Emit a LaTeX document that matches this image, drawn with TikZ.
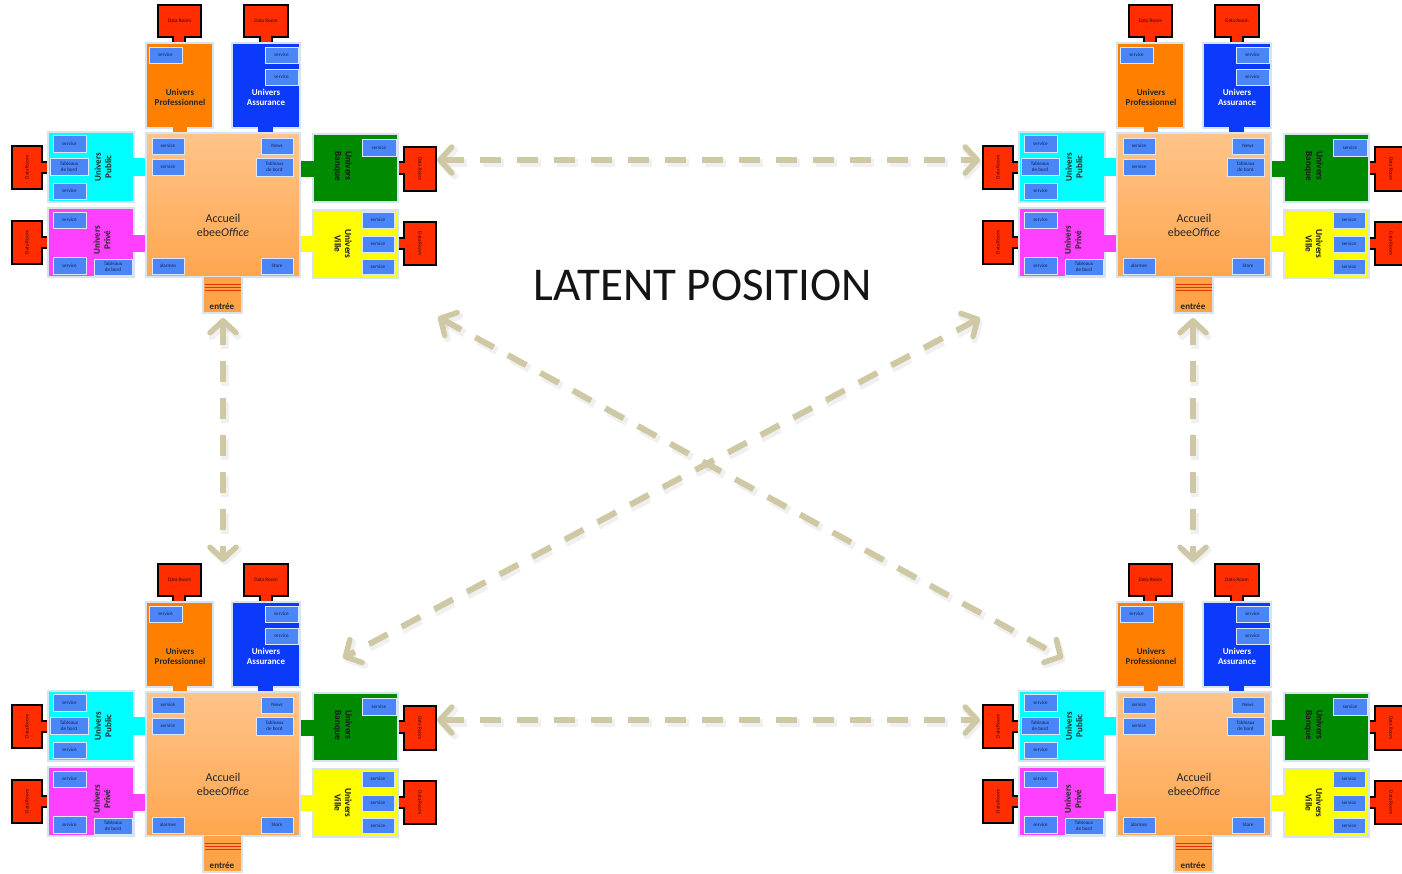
\documentclass[tikz,border=0pt]{standalone}
\usepackage{fontspec}
\setmainfont{Carlito}
\usetikzlibrary{arrows.meta}

\definecolor{drred}{RGB}{255,45,0}
\definecolor{uorange}{RGB}{255,128,0}
\definecolor{ublue}{RGB}{12,58,250}
\definecolor{ucyan}{RGB}{0,255,255}
\definecolor{umagenta}{RGB}{255,64,255}
\definecolor{ugreen}{RGB}{0,138,0}
\definecolor{uyellow}{RGB}{255,255,0}
\definecolor{svcblue}{RGB}{74,134,247}
\definecolor{svctext}{RGB}{20,35,80}
\definecolor{lightb}{RGB}{215,228,240}
\definecolor{acctop}{RGB}{255,196,138}
\definecolor{accbot}{RGB}{255,166,78}
\definecolor{entcol}{RGB}{255,163,70}
\definecolor{stripecol}{RGB}{230,50,10}
\definecolor{tan}{RGB}{207,200,165}

\tikzset{
  ubox/.style={draw=lightb, line width=1.2pt, inner sep=0pt, outer sep=0pt},
  svc/.style={fill=svcblue, draw=white!80!svcblue, line width=0.9pt, inner sep=0pt, outer sep=0pt,
    font=\fontsize{5.1}{6}\selectfont, text=svctext, align=center},
  ulabel/.style={font=\bfseries\fontsize{9}{10.5}\selectfont, align=center, text=black!85, inner sep=0pt},
  ulabelr/.style={font=\bfseries\fontsize{9.3}{10.5}\selectfont, align=center, text=black!90, inner sep=0pt},
  acclabel/.style={font=\fontsize{12}{14}\selectfont, align=center, text=black!85, inner sep=0pt},
  drline/.style={draw=black, line width=1.8pt, line join=miter},
  drtext/.style={font=\fontsize{5.2}{6}\selectfont, text=black!75!red, inner sep=0pt},
  stripe/.style={draw=stripecol, line width=0.8pt},
  latent/.style={draw=tan, line width=6pt, dash pattern=on 21pt off 16pt,
    {Straight Barb[length=12pt,width=26pt,line width=5.5pt,round]}-{Straight Barb[length=12pt,width=26pt,line width=5.5pt,round]}},
  latentshadow/.style={draw=black, opacity=0.06, line width=8pt, dash pattern=on 21pt off 16pt,
    {Straight Barb[length=12pt,width=26pt,line width=7pt,round]}-{Straight Barb[length=12pt,width=26pt,line width=7pt,round]},
    transform canvas={shift={(2pt,-3pt)}}},
}

% box from (x1,y1) to (x2,y2)
\newcommand\bx[7]{\node[#2, minimum width={(#5-#3)*1pt}, minimum height={(#6-#4)*1pt}] (#1) at ({(#3+#5)/2},{(#4+#6)/2}) {#7};}
% data room, stem down: name x1 y1 x2 y2 sx1 sx2 send
\newcommand\drD[8]{%
  \fill[drred] (#2,#3) rectangle (#4,#5) (#6,#5) rectangle (#7,#8);
  \draw[drline] (#6,#8) -- (#6,#5) -- (#2,#5) -- (#2,#3) -- (#4,#3) -- (#4,#5) -- (#7,#5) -- (#7,#8);
  \node[drtext] (#1) at ({(#2+#4)/2},{(#3+#5)/2}) {Data Room};}
% data room, stem right: name x1 y1 x2 y2 sy1 sy2 send
\newcommand\drR[8]{%
  \fill[drred] (#2,#3) rectangle (#4,#5) (#4,#6) rectangle (#8,#7);
  \draw[drline] (#8,#6) -- (#4,#6) -- (#4,#3) -- (#2,#3) -- (#2,#5) -- (#4,#5) -- (#4,#7) -- (#8,#7);
  \node[drtext, rotate=90] (#1) at ({(#2+#4)/2},{(#3+#5)/2}) {Data Room};}
% data room, stem left: name x1 y1 x2 y2 sy1 sy2 send
\newcommand\drL[8]{%
  \fill[drred] (#2,#3) rectangle (#4,#5) (#2,#6) rectangle (#8,#7);
  \draw[drline] (#8,#6) -- (#2,#6) -- (#2,#3) -- (#4,#3) -- (#4,#5) -- (#2,#5) -- (#2,#7) -- (#8,#7);
  \node[drtext, rotate=-90] (#1) at ({(#2+#4)/2},{(#3+#5)/2}) {Data Room};}

\newcommand\ebee[3]{%
\begin{scope}[shift={(#2,#3)}]
  \drD{#1drp}{158}{5}{201}{37}{173}{185}{43}
  \drD{#1dra}{244}{5}{288}{37}{260}{272}{43}
  \drR{#1drpub}{12}{146}{42}{189}{162}{173}{48}
  \drR{#1drpri}{12}{221}{42}{264}{237}{248}{48}
  \drL{#1drban}{404}{147}{436}{191}{162}{174}{398}
  \drL{#1drvil}{404}{222}{436}{265}{238}{249}{398}
  \bx{#1prof}{ubox,fill=uorange}{146}{43}{213}{128}{}
  \bx{#1assu}{ubox,fill=ublue}{232}{43}{300}{128}{}
  \bx{#1pub}{ubox,fill=ucyan}{48}{132}{134}{202}{}
  \bx{#1pri}{ubox,fill=umagenta}{48}{208}{134}{277}{}
  \bx{#1ban}{ubox,fill=ugreen}{313}{134}{398}{202}{}
  \bx{#1vil}{ubox,fill=uyellow}{313}{210}{398}{278}{}
  \fill[uorange] (173,127) rectangle (187,134);
  \fill[ublue] (258,127) rectangle (273,134);
  \fill[ucyan] (133,158) rectangle (146,176);
  \fill[umagenta] (133,235) rectangle (146,252);
  \fill[ugreen] (301,161) rectangle (314,177);
  \fill[uyellow] (301,236) rectangle (314,252);
  \bx{#1acc}{ubox,top color=acctop,bottom color=accbot}{146}{133}{300}{277}{}
  \bx{#1ent}{fill=entcol,inner sep=0pt,outer sep=0pt}{203}{276.5}{242}{313}{}
  \draw[draw=lightb, line width=1.2pt] (203,277) -- (203,313) -- (242,313) -- (242,277);
  \draw[stripe] (204.5,284.5) -- (240.5,284.5) (204.5,287.5) -- (240.5,287.5) (204.5,290.5) -- (240.5,290.5);
  \node[ulabel] (#1entl) at (222,306) {entrée};
  \bx{#1s1}{svc}{149}{47}{182}{63}{service}
  \bx{#1s2}{svc}{265}{47}{298}{63}{service}
  \bx{#1s3}{svc}{265}{69}{298}{85}{service}
  \bx{#1s4}{svc}{152}{138}{184}{154}{service}
  \bx{#1s5}{svc}{152}{159}{184}{175}{service}
  \bx{#1s6}{svc}{261}{138}{293}{154}{News}
  \bx{#1s7}{svc}{256}{158}{293}{176}{Tableaux\\de bord}
  \bx{#1s8}{svc}{152}{258}{184}{274}{alarmes}
  \bx{#1s9}{svc}{261}{258}{293}{274}{Store}
  \bx{#1s10}{svc}{53}{135}{86}{152}{service}
  \bx{#1s11}{svc}{50}{158}{88}{175}{Tableaux\\de bord}
  \bx{#1s12}{svc}{53}{183}{86}{199}{service}
  \bx{#1s13}{svc}{53}{212}{86}{228}{service}
  \bx{#1s14}{svc}{53}{257}{86}{274}{service}
  \bx{#1s15}{svc}{94}{259}{132}{275}{Tableaux\\de bord}
  \bx{#1s16}{svc}{362}{139}{396}{156}{service}
  \bx{#1s17}{svc}{362}{212}{394}{228}{service}
  \bx{#1s18}{svc}{362}{236}{394}{252}{service}
  \bx{#1s19}{svc}{362}{259}{394}{274}{service}
  \node[ulabel] (#1profl) at (180,97.5) {Univers\\Professionnel};
  \node[ulabel,text=white] (#1assul) at (266,97.5) {Univers\\Assurance};
  \node[ulabel,rotate=90] (#1publ) at (103,167) {Univers\\Public};
  \node[ulabel,rotate=90] (#1pril) at (102,240) {Univers\\Privé};
  \node[ulabelr,rotate=-90] (#1banl) at (343,166) {Univers\\Banque};
  \node[ulabelr,rotate=-90] (#1vill) at (343,244) {Univers\\Ville};
  \node[acclabel] (#1accl) at (223,225) {Accueil\\ebee\textit{Office}};
\end{scope}}

\begin{document}
\begin{tikzpicture}[x=1pt,y=-1pt]
  \fill[white] (0,0) rectangle (1402,873);
  \useasboundingbox (0,0) rectangle (1402,873);
  \ebee{tl}{0}{0}
  \ebee{tr}{971}{0}
  \ebee{bl}{0}{559}
  \ebee{br}{971}{559}

  \node[font=\fontsize{47}{50}\selectfont, text=black!92, inner sep=0pt] (title) at (703,285) {LATENT POSITION};

  \coordinate (h1a) at (437,160);  \coordinate (h1b) at (980,160);
  \coordinate (h2a) at (437,720);  \coordinate (h2b) at (980,720);
  \coordinate (v1a) at (223,318);  \coordinate (v1b) at (223,562);
  \coordinate (v2a) at (1193,318); \coordinate (v2b) at (1193,562);
  \coordinate (d1a) at (438,317);  \coordinate (d1b) at (1063,658);
  \coordinate (d2a) at (980,318);  \coordinate (d2b) at (343,658);

  \foreach \a/\b in {h1a/h1b, h2a/h2b, v1a/v1b, v2a/v2b, d1a/d1b, d2a/d2b}{
    \draw[latentshadow] (\a) -- (\b);
  }
  \foreach \a/\b in {h1a/h1b, h2a/h2b, v1a/v1b, v2a/v2b, d1a/d1b, d2a/d2b}{
    \draw[latent] (\a) -- (\b);
  }
\end{tikzpicture}
\end{document}
